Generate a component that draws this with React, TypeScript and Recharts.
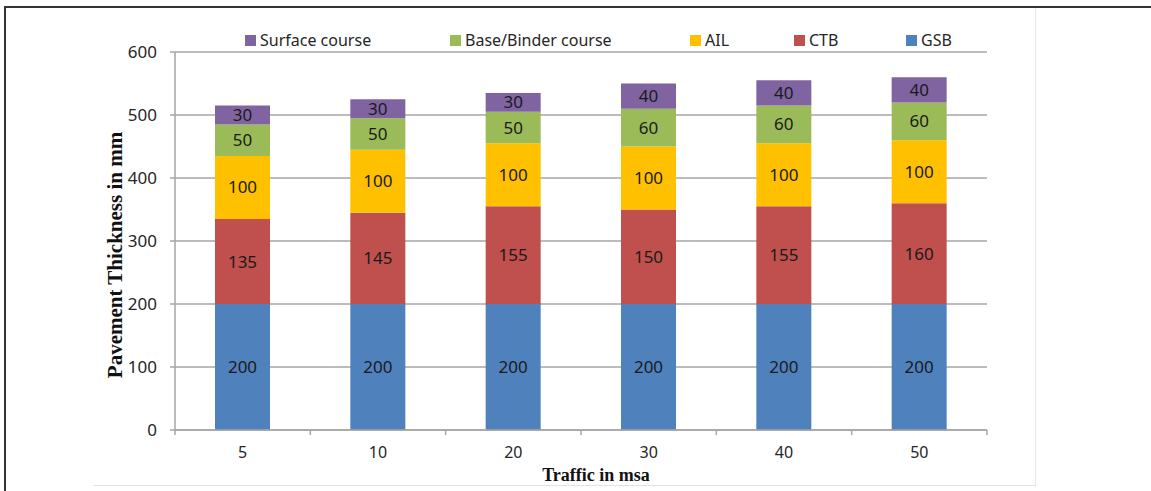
import React from "react";
import { Bar, BarChart, CartesianGrid, Label, LabelList, XAxis, YAxis } from "recharts";

const categories = ["5", "10", "20", "30", "40", "50"];
const gsb = [200, 200, 200, 200, 200, 200];
const ctb = [135, 145, 155, 150, 155, 160];
const ail = [100, 100, 100, 100, 100, 100];
const binder = [50, 50, 50, 60, 60, 60];
const surface = [30, 30, 30, 40, 40, 40];
const yTicks = [0, 100, 200, 300, 400, 500, 600];

// stacking order, bottom to top
const series = [
  { key: "gsb", name: "GSB", color: "#4F81BD", values: gsb },
  { key: "ctb", name: "CTB", color: "#C0504D", values: ctb },
  { key: "ail", name: "AIL", color: "#FFC000", values: ail },
  { key: "binder", name: "Base/Binder course", color: "#9BBB59", values: binder },
  { key: "surface", name: "Surface course", color: "#8064A2", values: surface },
];

const data = categories.map((c, i) => {
  const row: Record<string, string | number> = { traffic: c };
  series.forEach((s) => {
    row[s.key] = s.values[i];
  });
  return row;
});

const legendLeft = [245, 450, 690, 794, 906];
const tickFont = "'Noto Sans', 'Open Sans', sans-serif";

function XTick(props: any) {
  const { x, y, payload, index } = props;
  const half = payload?.offset ?? 67.7;
  return (
    <g>
      <line x1={x - half} y1={y} x2={x - half} y2={y + 5} stroke="#a6a6a6" strokeWidth={1.5} />
      {index === categories.length - 1 && (
        <line x1={x + half} y1={y} x2={x + half} y2={y + 5} stroke="#a6a6a6" strokeWidth={1.5} />
      )}
      <text
        x={x}
        y={y + 22}
        textAnchor="middle"
        dominantBaseline="central"
        fontFamily={tickFont}
        fontSize={16}
        fill="#262626"
      >
        {payload.value}
      </text>
    </g>
  );
}

export default function App() {
  const legendItems = [...series].reverse();
  return (
    <div
      style={{
        position: "fixed",
        left: 0,
        top: 0,
        width: 1151,
        height: 491,
        background: "#fff",
        overflow: "hidden",
      }}
    >
      {/* outer frame */}
      <div
        style={{
          position: "absolute",
          left: 4,
          top: 6,
          right: 0,
          bottom: 0,
          borderLeft: "2px solid #333",
          borderTop: "2px solid #333",
        }}
      />
      {/* faint chart-area border */}
      <div
        style={{
          position: "absolute",
          left: 93,
          top: 8,
          width: 1035 - 93,
          height: 485 - 8,
          borderRight: "1px solid #e8e8e8",
          borderBottom: "1px solid #e3e3e3",
        }}
      />
      <div style={{ position: "absolute", left: 0, top: 0 }}>
        <BarChart
          width={1151}
          height={491}
          data={data}
          margin={{ top: 52, right: 164, bottom: 0, left: 0 }}
          barSize={55}
        >
          <CartesianGrid vertical={false} stroke="#a6a6a6" strokeWidth={1.5} />
          <XAxis
            dataKey="traffic"
            height={61}
            axisLine={{ stroke: "#a6a6a6", strokeWidth: 1.5 }}
            tickLine={false}
            tickSize={0}
            tickMargin={0}
            tick={<XTick />}
            interval={0}
          >
            <Label
              content={() => (
                <text
                  x={596}
                  y={481}
                  textAnchor="middle"
                  fontFamily="'Liberation Serif', serif"
                  fontWeight="bold"
                  fontSize={18}
                  fill="#111"
                >
                  Traffic in msa
                </text>
              )}
            />
          </XAxis>
          <YAxis
            width={175}
            domain={[0, 600]}
            ticks={yTicks}
            interval={0}
            axisLine={{ stroke: "#a6a6a6", strokeWidth: 1.5 }}
            tickLine={{ stroke: "#a6a6a6", strokeWidth: 1.5 }}
            tickSize={5}
            tickMargin={13}
            tick={{ fontFamily: tickFont, fontSize: 17, fill: "#262626" }}
          >
            <Label
              content={() => (
                <text
                  x={115}
                  y={255}
                  transform="rotate(-90 115 255)"
                  textAnchor="middle"
                  dominantBaseline="central"
                  fontFamily="'Liberation Serif', serif"
                  fontWeight="bold"
                  fontSize={21}
                  fill="#111"
                >
                  Pavement Thickness in mm
                </text>
              )}
            />
          </YAxis>
          {series.map((s) => (
            <Bar key={s.key} dataKey={s.key} name={s.name} stackId="a" fill={s.color} isAnimationActive={false}>
              <LabelList
                dataKey={s.key}
                position="center"
                fill="#1a1a1a"
                fontFamily={tickFont}
                fontSize={17}
              />
            </Bar>
          ))}
        </BarChart>
      </div>
      {/* legend */}
      {legendItems.map((s, i) => (
        <div
          key={s.key}
          style={{
            position: "absolute",
            left: legendLeft[i],
            top: 30,
            height: 20,
            display: "flex",
            alignItems: "center",
            fontFamily: tickFont,
            fontSize: 16,
            color: "#262626",
            whiteSpace: "nowrap",
          }}
        >
          <span style={{ width: 11, height: 11, background: s.color, marginRight: 4, display: "inline-block" }} />
          {s.name}
        </div>
      ))}
    </div>
  );
}
